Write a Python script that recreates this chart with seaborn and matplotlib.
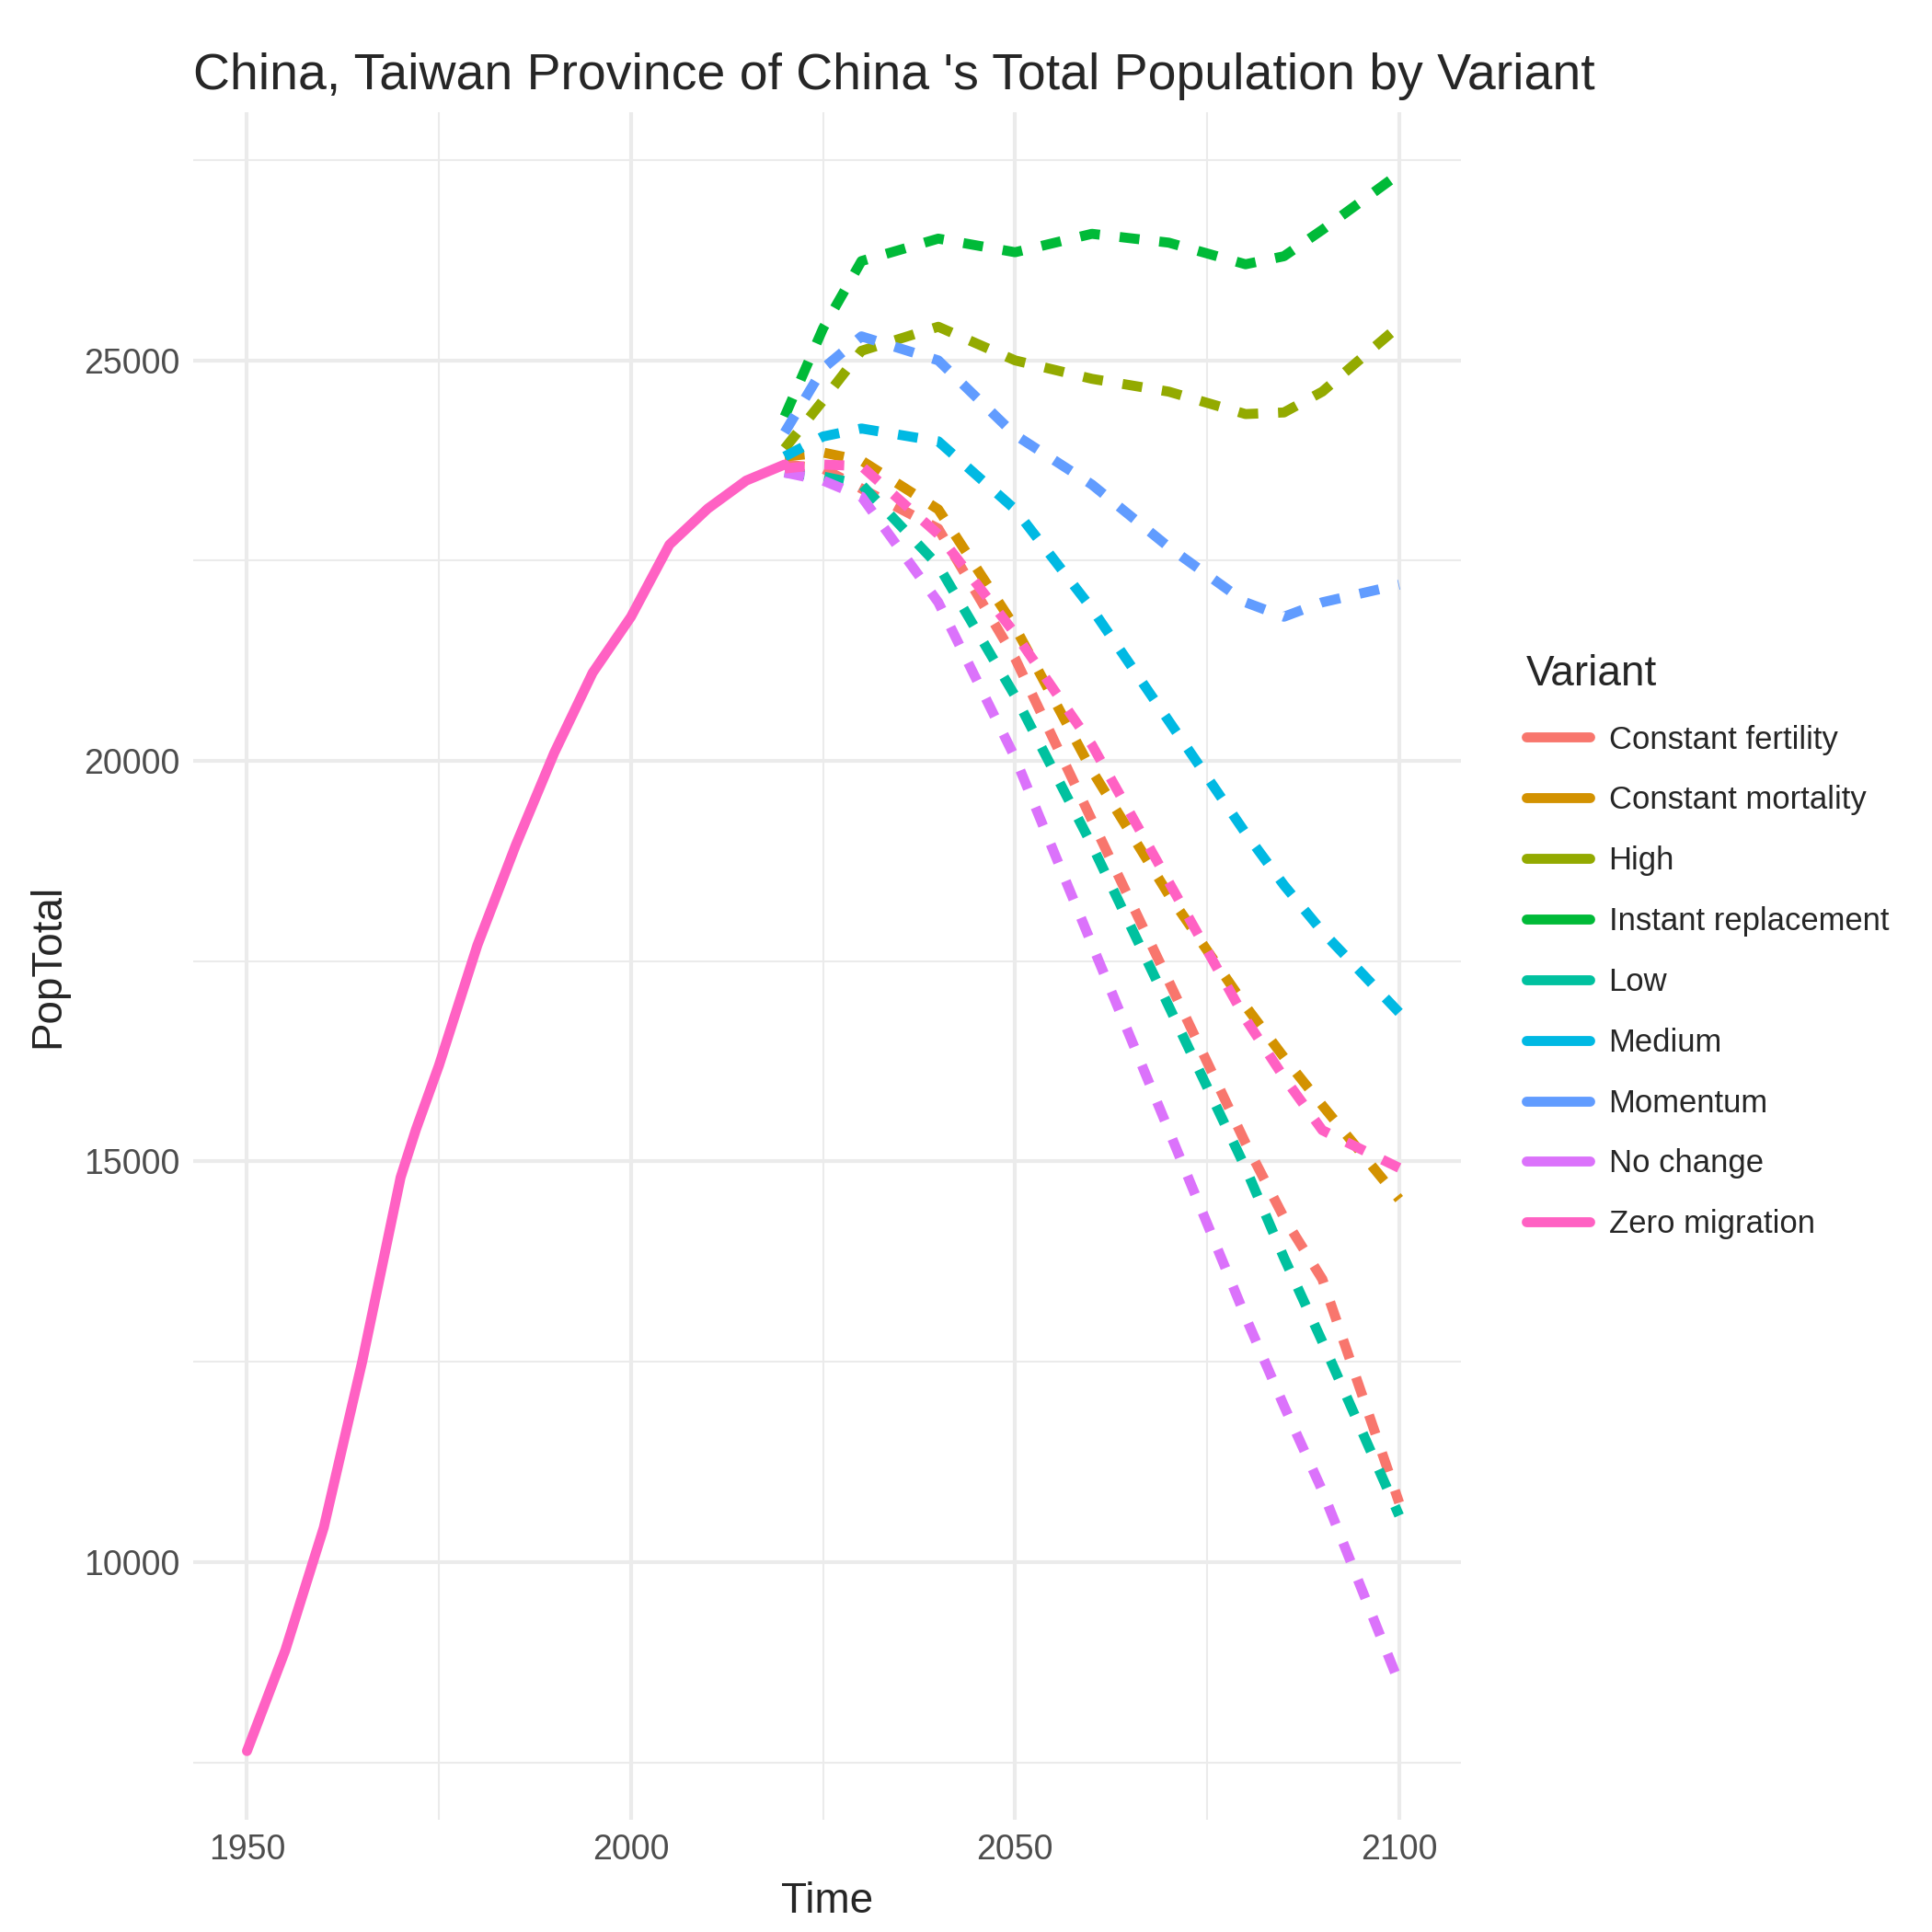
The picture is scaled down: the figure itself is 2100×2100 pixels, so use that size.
import matplotlib
matplotlib.use("Agg")
import matplotlib.pyplot as plt
import numpy as np
import pandas as pd
import seaborn as sns
from matplotlib.lines import Line2D

# history (shared by every variant)
hist_years = [1950, 1955, 1960, 1965, 1970, 1972, 1975, 1980, 1985, 1990, 1995, 2000, 2005, 2010, 2015, 2020]
hist_pop = [7640, 8900, 10430, 12500, 14800, 15400, 16200, 17700, 18950, 20100, 21100, 21800, 22700, 23150, 23500, 23700]

proj_years = [2020, 2025, 2030, 2040, 2050, 2060, 2070, 2080, 2085, 2090, 2100]
variants = ['Constant fertility', 'Constant mortality', 'High', 'Instant replacement',
            'Low', 'Medium', 'Momentum', 'No change', 'Zero migration']
proj = {
    'Constant fertility':  [23700, 23650, 23400, 22900, 21280, 19260, 17250, 15230, 14300, 13530, 10740],
    'Constant mortality':  [23800, 23850, 23750, 23140, 21670, 19880, 18330, 16940, 16300, 15700, 14530],
    'High':                [23900, 24500, 25120, 25420, 25000, 24770, 24610, 24330, 24350, 24610, 25430],
    'Instant replacement': [24300, 25400, 26240, 26520, 26350, 26580, 26470, 26200, 26300, 26630, 27330],
    'Low':                 [23600, 23550, 23450, 22440, 20810, 18950, 16940, 14920, 13800, 12750, 10580],
    'Medium':              [23800, 24050, 24150, 23990, 23140, 21900, 20500, 19100, 18450, 17870, 16860],
    'Momentum':            [24100, 24900, 25300, 25000, 24070, 23450, 22670, 21980, 21800, 21980, 22200],
    'No change':           [23600, 23500, 23300, 21980, 20040, 17710, 15390, 13060, 11950, 10890, 8490],
    'Zero migration':      [23650, 23700, 23680, 22830, 21590, 20200, 18490, 16780, 16050, 15390, 14920],
}
colors = ['#F8766D', '#D39200', '#93AA00', '#00BA38', '#00C19F',
          '#00B9E3', '#619CFF', '#DB72FB', '#FF61C3']

rows = []
for v in variants:
    for y, p in zip(proj_years, proj[v]):
        rows.append((v, y, p))
df = pd.DataFrame(rows, columns=['Variant', 'Time', 'PopTotal'])
df_hist = pd.DataFrame({'Time': hist_years, 'PopTotal': hist_pop})

sns.set_style("whitegrid")
plt.rcParams['font.family'] = ['Liberation Sans', 'DejaVu Sans']
fig = plt.figure(figsize=(7, 7), dpi=300)
ax = fig.add_axes([0.1, 0.058, 0.656, 0.884])

palette = dict(zip(variants, colors))
for v in variants:
    sns.lineplot(x='Time', y='PopTotal', data=df[df['Variant'] == v], color=palette[v],
                 linewidth=2.6, linestyle=(0, (2, 2)), ax=ax, legend=False)
sns.lineplot(x='Time', y='PopTotal', data=df_hist, color=colors[-1], linewidth=2.6, ax=ax)

ax.set_xlim(1943, 2108)
ax.set_ylim(6780, 28100)
ax.set_xticks([1950, 2000, 2050, 2100])
ax.set_xticks([1975, 2025, 2075], minor=True)
ax.set_yticks([10000, 15000, 20000, 25000])
ax.set_yticks([7500, 12500, 17500, 22500, 27500], minor=True)
ax.grid(which='major', color='#EBEBEB', linewidth=1.0)
ax.grid(which='minor', color='#EBEBEB', linewidth=0.5)
for s in ax.spines.values():
    s.set_visible(False)
ax.tick_params(which='both', length=0, labelsize=9, labelcolor='#4D4D4D')
ax.set_xlabel('Time', fontsize=11)
ax.set_ylabel('PopTotal', fontsize=11)
ax.set_title("China, Taiwan Province of China 's Total Population by Variant", fontsize=13.3, loc='left', x=0.0)

handles = [Line2D([], [], color=c, linewidth=2.6) for c in colors]
leg = fig.legend(handles, variants, title='Variant', loc='center left', bbox_to_anchor=(0.775, 0.51),
                 frameon=False, fontsize=8.3, title_fontsize=11, handlelength=2.0,
                 handletextpad=0.6, labelspacing=0.95)
leg._legend_box.align = 'left'

plt.savefig('out.png', dpi=300)
